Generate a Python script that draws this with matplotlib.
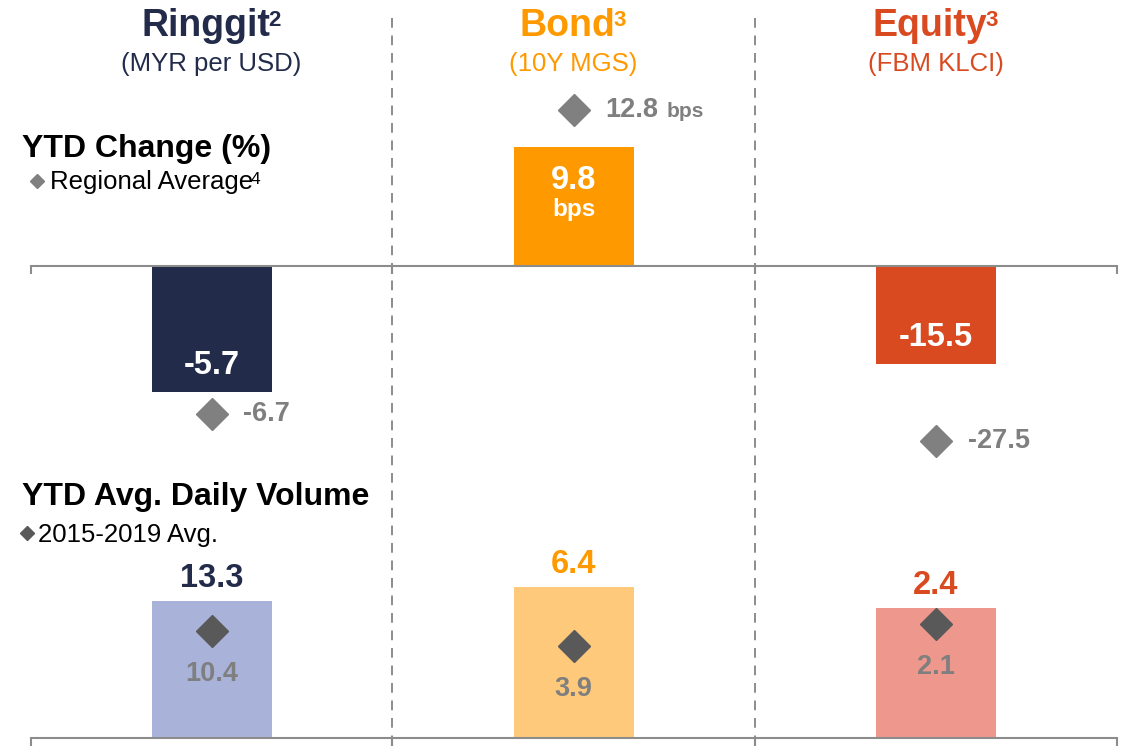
import matplotlib.pyplot as plt
from matplotlib.lines import Line2D
from matplotlib.text import Annotation

plt.rcParams['font.family'] = ['Liberation Sans', 'DejaVu Sans']

# data
assets = ['Ringgit', 'Bond', 'Equity']
title_notes = ['2', '3', '3']
subtitles = ['(MYR per USD)', '(10Y MGS)', '(FBM KLCI)']
ytd_change = [-5.7, 9.8, -15.5]
regional_avg = [-6.7, 12.8, -27.5]
change_units = ['', 'bps', '']
daily_volume = [13.3, 6.4, 2.4]
avg_2015_2019 = [10.4, 3.9, 2.1]

# colours
dark_cols = ['#232B4B', '#FF9900', '#D94A20']
light_cols = ['#A9B3D9', '#FFC97B', '#EE978C']
gray_txt = '#7F7F7F'
diam_top = '#808080'
diam_bot = '#595959'
axis_col = '#8C8C8C'

W, H = 1122, 747
fig = plt.figure(figsize=(W / 100, H / 100), dpi=100)


def fx(x):
    return x / W


def fy(y):
    return 1 - y / H


def text_sup(x, y, main, sup, size, sup_size, color, weight='normal', ha='left'):
    # main text with a footnote number attached at its top right corner
    t = fig.text(x, y, main, ha=ha, va='baseline', fontsize=size,
                 fontweight=weight, color=color)
    a = Annotation(sup, xy=(1, 1), xycoords=t, xytext=(-1.5, -1.5),
                   textcoords='offset points', ha='left', va='top',
                   fontsize=sup_size, fontweight=weight, color=color)
    fig.add_artist(a)
    return t


# column edges in pixels, px per unit scale per panel
edges = [31, 392, 755, 1117]
top_scale = [22.1, 12.15, 6.35]
bot_scale = [10.3, 23.6, 54.2]
top_base, top_y0, top_y1 = 266, 90, 470
bot_base, bot_y0 = 738, 540
bar_w = 120

for i in range(3):
    x0, x1 = edges[i], edges[i + 1]
    cw = x1 - x0

    # ---- top panel: YTD change
    ax = fig.add_axes([fx(x0), fy(top_y1), cw / W, (top_y1 - top_y0) / H])
    s = top_scale[i]
    ax.set_xlim(0, 1)
    ax.set_ylim(-(top_y1 - top_base) / s, (top_base - top_y0) / s)
    ax.bar(0.5, ytd_change[i], width=bar_w / cw, color=dark_cols[i], zorder=2)
    ax.plot(0.5, regional_avg[i], marker='D', ms=16, color=diam_top,
            ls='none', zorder=3)
    ax.annotate(f'{regional_avg[i]:.1f}', (0.5, regional_avg[i]), xytext=(23, 0),
                textcoords='offset points', ha='left', va='center',
                fontsize=19.5, fontweight='bold', color=gray_txt)
    if change_units[i]:
        ax.annotate(change_units[i], (0.5, regional_avg[i]), xytext=(67, -1),
                    textcoords='offset points', ha='left', va='center',
                    fontsize=15, fontweight='bold', color=gray_txt)
    v = ytd_change[i]
    if v < 0:
        ax.annotate(f'{v:.1f}', (0.5, v), xytext=(0, 13),
                    textcoords='offset points', ha='center', va='baseline',
                    fontsize=23.5, fontweight='bold', color='white')
    else:
        ax.annotate(f'{v:.1f}', (0.5, v), xytext=(0, -30.5),
                    textcoords='offset points', ha='center', va='baseline',
                    fontsize=23.5, fontweight='bold', color='white')
        ax.annotate(change_units[i], (0.5, v), xytext=(0, -50),
                    textcoords='offset points', ha='center', va='baseline',
                    fontsize=17.5, fontweight='bold', color='white')
    for sp in ['top', 'right', 'left']:
        ax.spines[sp].set_visible(False)
    ax.spines['bottom'].set_position(('data', 0))
    ax.spines['bottom'].set_color(axis_col)
    ax.spines['bottom'].set_linewidth(1.5)
    ax.set_xticks([0, 1])
    ax.set_xticklabels([])
    ax.set_yticks([])
    ax.tick_params(axis='x', direction='out', length=6, width=1.5, color=axis_col)
    ax.patch.set_alpha(0)

    # ---- bottom panel: YTD avg daily volume
    ax2 = fig.add_axes([fx(x0), fy(bot_base), cw / W, (bot_base - bot_y0) / H])
    s = bot_scale[i]
    ax2.set_xlim(0, 1)
    ax2.set_ylim(0, (bot_base - bot_y0) / s)
    ax2.bar(0.5, daily_volume[i], width=bar_w / cw, color=light_cols[i], zorder=2)
    ax2.plot(0.5, avg_2015_2019[i], marker='D', ms=16, color=diam_bot,
             ls='none', zorder=3)
    ax2.annotate(f'{avg_2015_2019[i]:.1f}', (0.5, avg_2015_2019[i]),
                 xytext=(0, -31), textcoords='offset points', ha='center',
                 va='center', fontsize=19.5, fontweight='bold', color=gray_txt)
    ax2.annotate(f'{daily_volume[i]:.1f}', (0.5, daily_volume[i]),
                 xytext=(0, 10), textcoords='offset points', ha='center',
                 va='baseline', fontsize=23.5, fontweight='bold', color=dark_cols[i],
                 annotation_clip=False)
    for sp in ['top', 'right', 'left']:
        ax2.spines[sp].set_visible(False)
    ax2.spines['bottom'].set_color(axis_col)
    ax2.spines['bottom'].set_linewidth(1.5)
    ax2.set_xticks([0, 1])
    ax2.set_xticklabels([])
    ax2.set_yticks([])
    ax2.tick_params(axis='x', direction='out', length=6, width=1.5, color=axis_col)
    ax2.patch.set_alpha(0)

    # ---- column headers
    cx = (x0 + x1) / 2
    text_sup(fx(cx - 6), fy(36), assets[i], title_notes[i], 27, 16,
             dark_cols[i], weight='bold', ha='center')
    fig.text(fx(cx), fy(71), subtitles[i], ha='center', va='baseline',
             fontsize=18.5, color=dark_cols[i])

# dashed column separators
for x in edges[1:3]:
    fig.add_artist(Line2D([fx(x), fx(x)], [fy(18), fy(747)], color=axis_col,
                          lw=1.4, ls=(0, (5, 4)), zorder=0))

# section headers and legend keys
fig.text(fx(22), fy(157), 'YTD Change (%)', ha='left', va='baseline',
         fontsize=23, fontweight='bold', color='black')
fig.add_artist(Line2D([fx(37)], [fy(181)], marker='D', ms=7, color=diam_top, ls='none'))
text_sup(fx(50), fy(189), 'Regional Average', '4', 18.5, 12.5, 'black')

fig.text(fx(22), fy(505), 'YTD Avg. Daily Volume', ha='left', va='baseline',
         fontsize=23, fontweight='bold', color='black')
fig.add_artist(Line2D([fx(27)], [fy(533)], marker='D', ms=7, color=diam_bot, ls='none'))
fig.text(fx(38), fy(542), '2015-2019 Avg.', ha='left', va='baseline',
         fontsize=18.5, color='black')

plt.savefig('out.png', dpi=100)
